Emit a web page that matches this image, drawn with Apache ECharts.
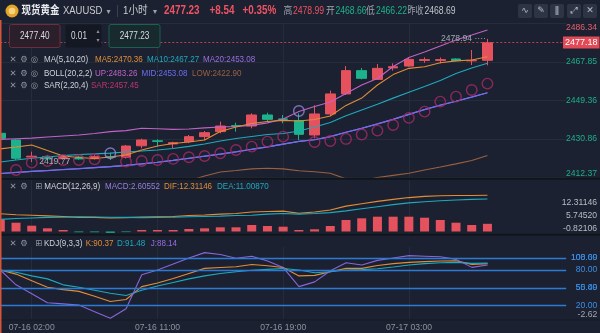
<!DOCTYPE html>
<html><head><meta charset="utf-8">
<script src="https://cdn.jsdelivr.net/npm/echarts@6/dist/echarts.min.js"></script>
<style>html,body{margin:0;padding:0;background:#1b2130;}#c{width:600px;height:333px;}</style>
</head><body><div id="c"></div>
<script>
// ---------- data ----------
const times = ['07-16 00:00','07-16 01:00','07-16 02:00','07-16 03:00','07-16 04:00','07-16 06:00','07-16 07:00','07-16 08:00','07-16 09:00','07-16 10:00','07-16 11:00','07-16 12:00','07-16 13:00','07-16 14:00','07-16 15:00','07-16 16:00','07-16 17:00','07-16 18:00','07-16 19:00','07-16 20:00','07-16 21:00','07-16 22:00','07-16 23:00','07-17 00:00','07-17 01:00','07-17 02:00','07-17 03:00','07-17 04:00','07-17 06:00','07-17 07:00','07-17 08:00','07-17 09:00','07-17 10:00','07-17 11:00','07-17 12:00','07-17 13:00','07-17 14:00'];
const xTicks = ['07-16 02:00','07-16 11:00','07-16 19:00','07-17 03:00'];

const opens  = [2433.6,2430.4,2422.2,2422.4,2421.4,2422.2,2421.4,2422.3,2422.1,2427.6,2430.0,2428.5,2429.6,2432.0,2434.4,2437.3,2437.1,2442.4,2440.5,2439.7,2432.8,2442.9,2452.5,2463.7,2459.5,2465.0,2465.9,2468.6,2468.6,2469.3,2468.4,2468.66];
const closes = [2431.2,2421.6,2422.6,2421.4,2422.4,2421.3,2422.4,2422.1,2427.5,2430.4,2429.7,2429.1,2432.0,2433.9,2437.1,2437.0,2442.4,2440.3,2440.3,2433.1,2442.9,2452.5,2463.7,2460.0,2464.8,2465.6,2469.1,2469.0,2469.0,2468.5,2468.69,2477.18];
const lows   = [2430.5,2420.8,2419.77,2420.6,2420.9,2420.9,2421.0,2420.8,2421.5,2426.4,2427.2,2426.4,2428.9,2430.4,2433.6,2434.4,2436.0,2439.2,2438.4,2430.4,2431.2,2441.9,2452.0,2459.5,2459.2,2463.7,2465.6,2467.5,2467.2,2468.2,2466.4,2466.22];
const highs  = [2434.5,2430.8,2424.8,2423.2,2423.0,2422.8,2423.1,2424.3,2428.0,2431.0,2430.7,2429.6,2432.8,2434.7,2439.2,2438.7,2443.2,2443.5,2442.4,2443.2,2447.0,2454.1,2465.9,2465.0,2466.9,2467.2,2469.8,2470.1,2470.0,2469.6,2473.6,2478.94];

const ma5  = [2426.1,2427.0,2428.0,2425.3,2422.7,2422.0,2421.5,2422.2,2423.2,2425.6,2427.5,2428.7,2429.4,2430.4,2434.5,2436.6,2438.3,2439.3,2439.8,2439.5,2440.2,2441.9,2447.0,2450.5,2456.8,2461.8,2464.8,2465.6,2467.5,2468.4,2468.8,2470.36];
const ma10 = [2419.8,2420.8,2421.6,2422.2,2422.9,2423.4,2423.7,2424.1,2424.6,2425.1,2425.6,2426.3,2427.3,2428.5,2429.9,2431.1,2432.1,2433.0,2433.5,2434.7,2436.6,2438.8,2442.0,2444.8,2447.6,2450.5,2453.3,2456.1,2459.0,2462.3,2465.0,2467.27];
const ma20 = [2414.3,2414.8,2415.3,2415.7,2416.2,2416.6,2417.1,2417.6,2418.2,2418.9,2419.7,2420.6,2421.6,2422.6,2423.6,2424.7,2425.9,2427.1,2428.4,2429.7,2430.5,2432.0,2434.1,2436.0,2438.1,2440.3,2442.7,2445.0,2447.1,2449.0,2451.0,2453.08];
const bollUp  = [2430.7,2431.0,2431.3,2431.8,2432.3,2432.8,2433.5,2434.4,2434.9,2436.0,2435.8,2435.5,2435.7,2436.2,2436.6,2436.9,2437.4,2438.6,2440.5,2444.1,2446.5,2448.6,2452.7,2456.8,2459.9,2465.7,2470.0,2472.7,2475.5,2478.4,2480.8,2483.26];
const bollMid = [2414.3,2414.8,2415.3,2415.7,2416.2,2416.6,2417.1,2417.6,2418.2,2418.9,2419.7,2420.6,2421.6,2422.6,2423.6,2424.7,2425.9,2427.1,2428.4,2429.7,2430.5,2432.0,2434.1,2436.0,2438.1,2440.3,2442.7,2445.0,2447.1,2449.0,2451.0,2453.08];
const bollLow = [2397.9,2398.6,2399.3,2399.6,2400.1,2400.4,2400.7,2400.8,2401.5,2402.0,2406.0,2408.5,2410.7,2413.1,2415.0,2415.7,2416.5,2416.8,2416.5,2415.6,2415.1,2414.4,2411.7,2410.7,2412.4,2413.4,2414.4,2416.0,2417.4,2418.9,2420.5,2422.90];
const sar = [null,2416.0,2419.5,2420.3,2420.8,2420.8,2421.1,2424.0,2420.0,2420.3,2420.8,2421.3,2422.1,2422.7,2424.0,2425.6,2427.2,2429.6,2432.0,2444.3,2429.4,2429.9,2430.9,2433.0,2434.9,2437.6,2441.0,2444.0,2448.8,2451.2,2454.4,2457.45];

const macdHist = [4.14,2.98,1.97,1.08,0.51,-0.25,-0.25,-0.45,-0.2,0.5,0.5,0.5,0.85,1.08,1.42,1.42,2.2,1.86,1.63,0.51,0.75,1.86,3.9,4.47,5.02,5.02,5.02,4.68,3.9,2.98,2.2,2.60552];
const dif = [6.0,5.7,5.5,5.3,5.1,4.8,4.8,4.6,4.7,4.9,5.0,5.1,5.4,5.6,5.9,6.1,6.6,6.8,6.9,6.2,6.6,7.3,8.6,9.4,10.2,10.9,11.5,11.9,12.1,12.2,12.2,12.31146];
const dea = [4.1,4.4,4.6,4.8,4.85,4.95,4.9,4.85,4.8,4.7,4.75,4.85,5.0,5.1,5.2,5.4,5.5,5.9,6.1,5.9,6.1,6.4,7.0,7.7,8.4,9.1,9.7,10.1,10.4,10.7,10.9,11.0087];

const kK = [79.8,73,62,51,47,44,36,27,30.5,52,58,65.5,74,82.6,84,85.3,89,87,84,70,70.9,77,82.6,82.6,87.5,90.5,92.7,94,95,95.4,89.3,90.37];
const kD = [79.8,76,70,65,55,51,46,41,37,46,53,59,65,70,74,77,79.5,81,82.5,80,75.3,77,79.8,80.5,82,85,88.2,90.5,92,92.7,91,91.48];
const kJ = [80,55,40,25,23,21,10,-1,15,72,80,90,100,109,106,99.5,103,95,84,52,60,78.6,92,88.3,96,100,104,103,102,97.7,84.3,88.14];

const mainYTicks = ['2412.37','2430.86','2449.36','2467.85','2486.34'];
const macdTicks  = ['-0.82106','5.74520','12.31146'];
const kdjLevels = [100, 80, 50, 20];
const kdjLevelLabels = ['100.00','80.00','50.00','20.00'];
const kdjExtraLabels = [['108.69',100],['55.49',50]];
const kdjMin = -2.62, kdjMinLabel = '-2.62';
const lastPrice = 2477.18;
const prevClose = 2468.69;
const header = {price:'2477.23', chg:'+8.54', pct:'+0.35%', high:'2478.99', open:'2468.66', low:'2466.22', prev:'2468.69', bid:'2477.40', lot:'0.01', ask:'2477.23'};

// ---------- fonts ----------
function hasFont(name){
  const c = document.createElement('canvas').getContext('2d');
  const s = 'MA5:2470.36 abcdefghijklm';
  let diff = false;
  ['monospace','serif'].forEach(function(base){
    c.font = '20px ' + base; const a = c.measureText(s).width;
    c.font = "20px '" + name + "'," + base; const b = c.measureText(s).width;
    if (Math.abs(a-b) > 0.5) diff = true;
  });
  return diff;
}
const HAS_NARROW = hasFont('Liberation Sans Narrow');
const UIF = HAS_NARROW ? "'Liberation Sans Narrow','Noto Sans CJK SC',sans-serif" : "'Liberation Sans','Noto Sans CJK SC',sans-serif";
const SX = HAS_NARROW ? 1 : 0.82;
const AXF = HAS_NARROW ? 9.5 : 8.6;
const SYM = "'DejaVu Sans',sans-serif";

// ---------- styles ----------
const RED = '#e5525d', TEAL = '#1cb38c';
const C_MA5 = '#e08d38', C_MA10 = '#1fa9bd', C_MA20 = '#9a6ee0', C_UP = '#c063c6', C_MID = '#6d6df0', C_LOW = '#9a6040', C_SAR = '#c0356f';
const GRIDC = '#252c3a';
const NOLINE = {color:'rgba(0,0,0,0)', width:0};

const chart = echarts.init(document.getElementById('c'), null, {width:600, height:333});

function txt(x, y, text, fill, size, o) {
  o = o || {};
  return {type:'text', x:x, y:y, z:60, silent:true, scaleX:(o.sx!=null?o.sx:SX),
    style:{text:text, fill:fill, font:(o.weight||'normal')+' '+size+'px '+(o.family||UIF), align:o.align||'left', verticalAlign:'middle'}};
}
const last = a => a[a.length-1];
const G = [];
G.push({type:'rect', z:70, shape:{x:0,y:20,width:1.5,height:313}, style:{fill:'#d4553a'}});
G.push({type:'rect', z:40, shape:{x:0,y:177.8,width:600,height:2}, style:{fill:'#10141b'}});
G.push({type:'rect', z:40, shape:{x:0,y:233.8,width:600,height:2}, style:{fill:'#10141b'}});
G.push({type:'line', z:40, shape:{x1:0,y1:320,x2:600,y2:320}, style:{stroke:'#151a23',lineWidth:1}});
// header row
G.push({type:'circle', z:60, shape:{cx:12,cy:11,r:6.5}, style:{fill:'#e3a62a'}});
G.push({type:'circle', z:61, shape:{cx:12,cy:11,r:3.3}, style:{fill:'#f7d47c'}});
G.push(txt(21.5,11,'现货黄金','#e8eaee',11,{weight:'bold',sx:0.86}));
G.push(txt(63,11,'XAUUSD','#c9ccd3',11.5));
G.push(txt(106.5,11.5,'▾','#9aa0aa',8,{family:SYM,sx:1}));
G.push({type:'line', z:60, shape:{x1:117.5,y1:5,x2:117.5,y2:17}, style:{stroke:'#3b4150',lineWidth:1}});
G.push(txt(123,11,'1小时','#c9ccd3',11,{sx:0.88}));
G.push(txt(153,11.5,'▾','#9aa0aa',8,{family:SYM,sx:1}));
G.push(txt(164,11,header.price,'#ef5363',12,{weight:'bold'}));
G.push(txt(209.5,11,header.chg,'#ef5363',12,{weight:'bold'}));
G.push(txt(242.5,11,header.pct,'#ef5363',12,{weight:'bold'}));
G.push(txt(283.5,11,'高','#9ea3ad',10,{sx:0.88}));
G.push(txt(293,11,header.high,'#ef5363',10.5));
G.push(txt(326,11,'开','#9ea3ad',10,{sx:0.88}));
G.push(txt(335.5,11,header.open,TEAL,10.5));
G.push(txt(366,11,'低','#9ea3ad',10,{sx:0.88}));
G.push(txt(376,11,header.low,TEAL,10.5));
G.push(txt(407.5,11,'昨收','#9ea3ad',10,{sx:0.8}));
G.push(txt(424.5,11,header.prev,'#c0c4cc',10.5));
[['∿',518],['✎',534],['ǁ',550],['⤢',567],['✕',583]].forEach(function(p){
  G.push({type:'rect', z:60, shape:{x:p[1],y:4,width:14,height:14,r:2}, style:{fill:'#2d3545'}});
  G.push(txt(p[1]+7,11,p[0],'#b9bec8',9,{family:SYM,align:'center',sx:1}));
});
// order boxes
G.push({type:'rect', z:60, shape:{x:9.5,y:24.5,width:50.5,height:23,r:2}, style:{fill:'#2a1f2b',stroke:'#6e2d3a',lineWidth:1}});
G.push(txt(34.8,36,header.bid,'#d8dae0',10,{align:'center'}));
G.push({type:'rect', z:60, shape:{x:65.5,y:24.5,width:36,height:23,r:2}, style:{fill:'#131822'}});
G.push(txt(79,36,header.lot,'#d8dae0',10,{align:'center'}));
G.push(txt(98,31.5,'▴','#8a909a',6,{family:SYM,align:'center',sx:1}));
G.push(txt(98,40.5,'▾','#8a909a',6,{family:SYM,align:'center',sx:1}));
G.push({type:'rect', z:60, shape:{x:109,y:24.5,width:51,height:23,r:2}, style:{fill:'#182a2d',stroke:'#1d5f50',lineWidth:1}});
G.push(txt(134.5,36,header.ask,'#d8dae0',10,{align:'center'}));
// indicator legends
function icons(y, third) {
  G.push(txt(13,y,'✕','#8f95a0',8.5,{family:SYM,align:'center',sx:1}));
  G.push(txt(24,y,'⚙','#8f95a0',8.5,{family:SYM,align:'center',sx:1}));
  G.push(txt(third==='⊞'?38.5:34.5,y,third,'#8f95a0',8.5,{family:SYM,align:'center',sx:1}));
}
const LC = '#cfd2d8', LF = 9.8;
icons(59.3,'◎'); G.push(txt(44,59.3,'MA(5,10,20)',LC,LF));
G.push(txt(95,59.3,'MA5:'+last(ma5).toFixed(2),C_MA5,LF));
G.push(txt(147,59.3,'MA10:'+last(ma10).toFixed(2),C_MA10,LF));
G.push(txt(203,59.3,'MA20:'+last(ma20).toFixed(2),C_MA20,LF));
icons(73.3,'◎'); G.push(txt(44,73.3,'BOLL(20,2,2)',LC,LF));
G.push(txt(95,73.3,'UP:'+last(bollUp).toFixed(2),C_UP,LF));
G.push(txt(141.5,73.3,'MID:'+last(bollMid).toFixed(2),C_MID,LF));
G.push(txt(192,73.3,'LOW:'+last(bollLow).toFixed(2),C_LOW,LF));
icons(85.7,'◎'); G.push(txt(44,85.7,'SAR(2,20,4)',LC,LF));
G.push(txt(91,85.7,'SAR:'+last(sar).toFixed(2),C_SAR,LF));
icons(186.7,'⊞'); G.push(txt(44.3,186.7,'MACD(12,26,9)',LC,LF));
G.push(txt(105,186.7,'MACD:'+last(macdHist).toFixed(5),'#9a7ddc',LF));
G.push(txt(164,186.7,'DIF:'+last(dif).toFixed(5),C_MA5,LF));
G.push(txt(217,186.7,'DEA:'+last(dea).toFixed(5),C_MA10,LF));
icons(243.3,'⊞'); G.push(txt(44,243.3,'KDJ(9,3,3)',LC,LF));
G.push(txt(85.7,243.3,'K:'+last(kK).toFixed(2),C_MA5,LF));
G.push(txt(117,243.3,'D:'+last(kD).toFixed(2),C_MA10,LF));
G.push(txt(150.7,243.3,'J:'+last(kJ).toFixed(2),'#9a6ee0',LF));

// ---------- axes ----------
const xAx = [0,1,2].map(function(i){ return {
  type:'category', gridIndex:i, data:times, boundaryGap:false,
  axisLine:{show:false}, axisTick:{show:false},
  axisLabel:{show:i===2, interval:function(idx,val){return xTicks.indexOf(val)>=0;}, color:'#8d929b', fontSize:AXF, fontFamily:UIF, margin:4},
  splitLine:{show:true, interval:function(idx,val){return xTicks.indexOf(val)>=0;}, lineStyle:{color:GRIDC,width:1}}
};});
const macdSlots = [1,4,7];
const yAx = [
  {gridIndex:0, type:'value', min:parseFloat(mainYTicks[0]), max:parseFloat(last(mainYTicks)), show:false},
  {gridIndex:0, type:'value', position:'right', min:0, max:mainYTicks.length-1, interval:1,
   axisLine:{show:false}, axisTick:{show:false}, splitLine:{show:true, lineStyle:{color:GRIDC}},
   axisLabel:{margin:31, align:'right', fontSize:AXF, fontFamily:UIF, showMinLabel:true, showMaxLabel:true,
     verticalAlignMaxLabel:'top', verticalAlignMinLabel:'bottom',
     formatter:function(v){return mainYTicks[v]||'';},
     color:function(v){return parseFloat(mainYTicks[v])>prevClose?'#e4606b':'#1fae8a';}}},
  {gridIndex:1, type:'value', min:-0.68, max:17.46, show:false},
  {gridIndex:1, type:'value', position:'right', min:0, max:12, interval:1,
   axisLine:{show:false}, axisTick:{show:false}, splitLine:{show:false},
   axisLabel:{margin:31, align:'right', fontSize:AXF, fontFamily:UIF, color:'#b9bdc5',
     formatter:function(v){var k=macdSlots.indexOf(v);return k<0?'':macdTicks[k];}}},
  {gridIndex:2, type:'value', min:kdjMin, max:118.45, show:false}
];

const hiIdx = highs.indexOf(Math.max.apply(null,highs));
const loIdx = lows.indexOf(Math.min.apply(null,lows));
const line = (name,data,color,xi,yi,w) => ({name:name, type:'line', xAxisIndex:xi, yAxisIndex:yi, data:data, showSymbol:false, symbol:'none', z:3,
  lineStyle:{color:color, width:w||1.1}, itemStyle:{color:color}, silent:true});

const kdjMarks = kdjLevels.map(function(v,i){return {yAxis:v, label:{formatter:kdjLevelLabels[i]}};})
  .concat(kdjExtraLabels.map(function(p){return {yAxis:p[1], lineStyle:NOLINE, label:{formatter:p[0]}};}))
  .concat([{yAxis:kdjMin, lineStyle:NOLINE, label:{formatter:kdjMinLabel, color:'#a3a8b1', verticalAlign:'bottom'}}]);

const series = [
  {type:'candlestick', xAxisIndex:0, yAxisIndex:0, z:2, barWidth:10, silent:true,
   data:opens.map(function(o,i){return [o, closes[i], lows[i], highs[i]];}),
   itemStyle:{color:RED, color0:TEAL, borderColor:RED, borderColor0:TEAL, borderWidth:1},
   markLine:{silent:true, symbol:['none','none'], lineStyle:{color:'#b8434f', type:[2,2], width:1},
     label:{position:'end', distance:33.5, align:'right', formatter:lastPrice.toFixed(2), backgroundColor:'#e14a56', color:'#ffffff', fontSize:AXF+0.4, fontFamily:UIF, padding:[2,2,1,2]},
     data:[{yAxis:lastPrice}]},
   markPoint:{silent:true, symbol:'circle', symbolSize:1, itemStyle:{color:'rgba(0,0,0,0)'},
     label:{color:'#a3a8b1', fontSize:AXF, fontFamily:UIF},
     data:[{coord:[times[hiIdx], highs[hiIdx]], label:{position:'left', distance:1, formatter:highs[hiIdx].toFixed(2)+' ····'}},
           {coord:[times[loIdx], lows[loIdx]], label:{position:'right', distance:7, formatter:lows[loIdx].toFixed(2)}}]}},
  line('MA20', ma20, C_MA20, 0, 0),
  line('MID', bollMid, C_MID, 0, 0, 1.2),
  line('UP', bollUp, C_UP, 0, 0),
  line('LOW', bollLow, C_LOW, 0, 0),
  line('MA10', ma10, C_MA10, 0, 0),
  line('MA5', ma5, C_MA5, 0, 0),
  {type:'scatter', xAxisIndex:0, yAxisIndex:0, z:4, silent:true, symbol:'circle', symbolSize:10.5,
   data:sar.map(function(v,i){return (v!=null && v<closes[i])?v:null;}),
   itemStyle:{color:'rgba(0,0,0,0)', borderColor:'#a82b66', borderWidth:1.4}},
  {type:'scatter', xAxisIndex:0, yAxisIndex:0, z:4, silent:true, symbol:'circle', symbolSize:10.5,
   data:sar.map(function(v,i){return (v!=null && v>=closes[i])?v:null;}),
   itemStyle:{color:'rgba(0,0,0,0)', borderColor:'#9486dc', borderWidth:1.4}},
  {type:'bar', xAxisIndex:1, yAxisIndex:2, barWidth:9, silent:true, data:macdHist,
   itemStyle:{color:function(p){return p.value>=0?RED:TEAL;}}},
  line('DIF', dif, C_MA5, 1, 2),
  line('DEA', dea, C_MA10, 1, 2),
  Object.assign(line('K', kK, C_MA5, 2, 4), {markLine:{silent:true, symbol:['none','none'],
     lineStyle:{color:'#2a7bd6', width:1.3, type:'solid'},
     label:{position:'end', distance:31, align:'right', color:'#3b8ee6', fontSize:AXF, fontFamily:UIF},
     data:kdjMarks}}),
  line('D', kD, C_MA10, 2, 4),
  line('J', kJ, '#8a64d8', 2, 4)
];

chart.setOption({
  backgroundColor:'#1b2130',
  animation:false,
  grid:[
    {left:0.3, right:33.8, top:23.5, height:154},
    {left:0.3, right:33.8, top:180, height:53.5},
    {left:0.3, right:33.8, top:247, height:72.2}
  ],
  xAxis:xAx, yAxis:yAx, series:series, graphic:G
});
</script></body></html>
